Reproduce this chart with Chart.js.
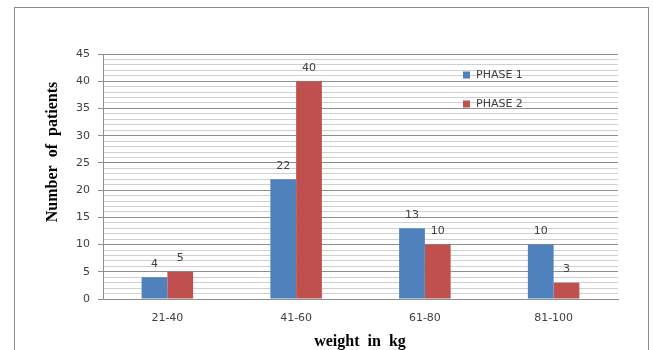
<!DOCTYPE html>
<html>
<head>
<meta charset="utf-8">
<script src="https://cdn.jsdelivr.net/npm/chart.js@4"></script>
<style>
  html, body { margin: 0; padding: 0; background: #fff; }
  #wrap { width: 653px; height: 350px; position: relative; }
</style>
</head>
<body>
<div id="wrap"><canvas id="chart" width="653" height="350"></canvas></div>
<script>
const categories = ['21-40', '41-60', '61-80', '81-100'];
const phase1 = [4, 22, 13, 10];
const phase2 = [5, 40, 10, 3];
const seriesNames = ['PHASE 1', 'PHASE 2'];
const yTitle = 'Number  of  patients';
const xTitle = 'weight  in  kg';

const BLUE = '#4F81BD';
const RED = '#C0504D';

Chart.defaults.font.family = 'DejaVu Sans';
Chart.defaults.font.size = 11;
Chart.defaults.color = '#404040';

// frame, value labels, in-plot legend and axis titles
const decorations = {
  id: 'decorations',
  beforeDraw(chart) {
    const ctx = chart.ctx;
    ctx.save();
    ctx.fillStyle = '#fff';
    ctx.fillRect(0, 0, chart.width, chart.height);
    ctx.strokeStyle = '#8c8c8c';
    ctx.lineWidth = 1;
    ctx.strokeRect(14.5, 7.5, 634, 400);
    ctx.restore();
  },
  afterDatasetsDraw(chart) {
    const ctx = chart.ctx;
    ctx.save();
    ctx.font = '11px "DejaVu Sans"';
    ctx.fillStyle = '#404040';
    ctx.textAlign = 'center';
    ctx.textBaseline = 'bottom';
    chart.data.datasets.forEach((ds, i) => {
      chart.getDatasetMeta(i).data.forEach((bar, j) => {
        ctx.fillText(ds.data[j], bar.x, bar.y - 8);
      });
    });

    // legend
    ctx.textAlign = 'left';
    ctx.textBaseline = 'middle';
    chart.data.datasets.forEach((ds, i) => {
      const y = 75 + i * 29;
      ctx.fillStyle = ds.backgroundColor;
      ctx.fillRect(463, y - 3.5, 7, 7);
      ctx.fillStyle = '#404040';
      ctx.fillText(ds.label, 476, y);
    });

    // axis titles
    ctx.fillStyle = '#000';
    ctx.font = 'bold 16px "Liberation Serif"';
    ctx.textAlign = 'center';
    ctx.fillText(xTitle, 360, 342);
    ctx.translate(53, 152);
    ctx.rotate(-Math.PI / 2);
    ctx.fillText(yTitle, 0, 0);
    ctx.restore();
  }
};

new Chart(document.getElementById('chart'), {
  type: 'bar',
  data: {
    labels: categories,
    datasets: [
      { label: seriesNames[0], data: phase1, backgroundColor: BLUE },
      { label: seriesNames[1], data: phase2, backgroundColor: RED }
    ]
  },
  options: {
    responsive: false,
    animation: false,
    layout: { padding: { left: 40, right: 35, top: 54, bottom: 0 } },
    datasets: { bar: { categoryPercentage: 0.4, barPercentage: 1 } },
    plugins: { legend: { display: false }, tooltip: { enabled: false } },
    scales: {
      x: {
        grid: { display: false, drawTicks: false },
        border: { display: true, color: '#8f8f8f' },
        ticks: { padding: 13 },
        afterFit(scale) { scale.height = 51; }
      },
      y: {
        min: 0,
        max: 45,
        afterFit(scale) { scale.width = 63; },
        ticks: {
          stepSize: 1,
          autoSkip: false,
          padding: 8,
          callback: v => (v % 5 === 0 ? v : '')
        },
        grid: {
          tickLength: 5,
          color: c => (c.tick && c.tick.value % 5 === 0 ? '#8f8f8f' : '#d0d0d0'),
          tickColor: c => (c.tick && c.tick.value % 5 === 0 ? '#8f8f8f' : 'rgba(0,0,0,0)')
        },
        border: { display: true, color: '#8f8f8f' }
      }
    }
  },
  plugins: [decorations]
});
</script>
</body>
</html>
